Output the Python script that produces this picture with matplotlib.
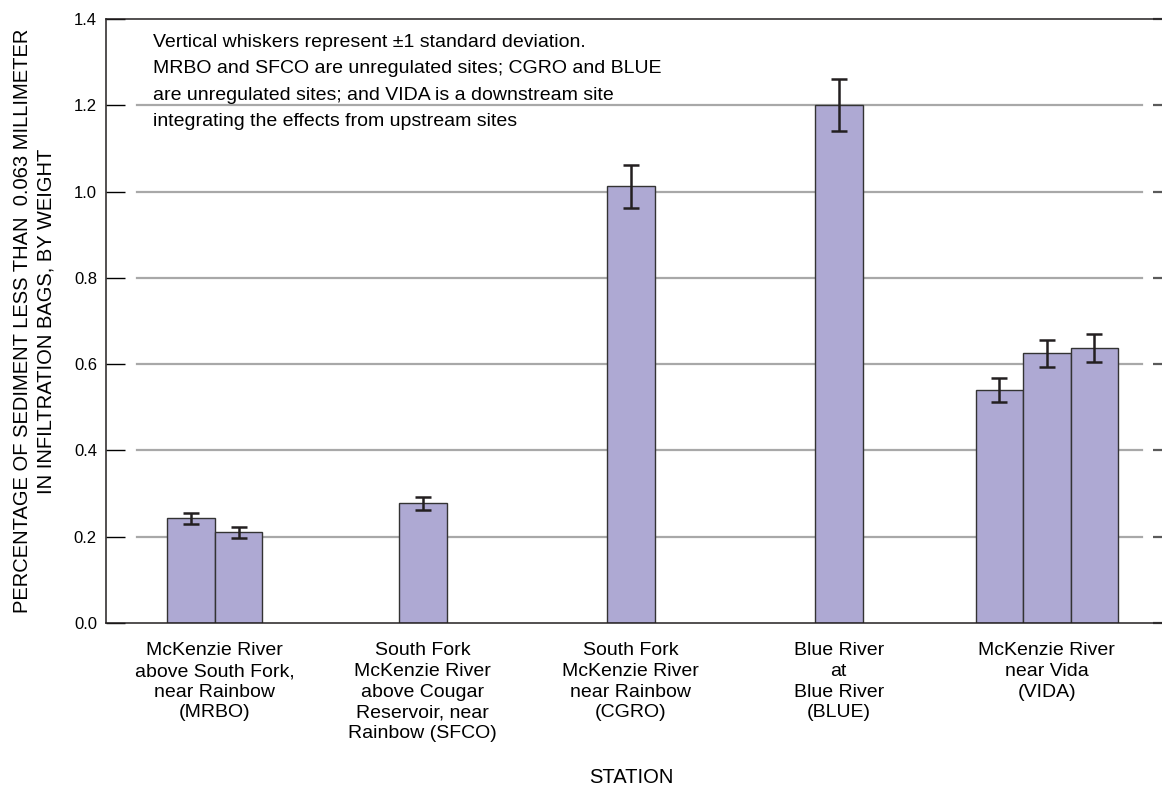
import numpy as np
import matplotlib
matplotlib.use('Agg')
from matplotlib import pyplot as plt

plt.rcParams['font.family'] = ['Liberation Sans Narrow', 'Liberation Sans', 'DejaVu Sans']

# station labels and per-bag values (percent < 0.063 mm, by weight)
stations = ['McKenzie River\nabove South Fork,\nnear Rainbow\n(MRBO)',
            'South Fork\nMcKenzie River\nabove Cougar\nReservoir, near\nRainbow (SFCO)',
            'South Fork\nMcKenzie River\nnear Rainbow\n(CGRO)',
            'Blue River\nat\nBlue River\n(BLUE)',
            'McKenzie River\nnear Vida\n(VIDA)']
mrbo = [0.243, 0.210]
sfco = [0.277]
cgro = [1.012]
blue = [1.201]
vida = [0.541, 0.625, 0.638]
mrbo_sd = [0.013, 0.012]
sfco_sd = [0.015]
cgro_sd = [0.050]
blue_sd = [0.060]
vida_sd = [0.028, 0.032, 0.033]

values = [mrbo, sfco, cgro, blue, vida]
sds = [mrbo_sd, sfco_sd, cgro_sd, blue_sd, vida_sd]
yticks = [0.0, 0.2, 0.4, 0.6, 0.8, 1.0, 1.2, 1.4]

W, H = 1162, 786
fig = plt.figure(figsize=(W / 100, H / 100), dpi=100)
ax = fig.add_axes([106 / W, 1 - 623 / H, 1066 / W, 604 / H])

bw = 0.2284
xs, ys, es = [], [], []
for i, (v, s) in enumerate(zip(values, sds)):
    n = len(v)
    for j in range(n):
        xs.append(i + (j - (n - 1) / 2) * bw)
        ys.append(v[j])
        es.append(s[j])

for y in yticks[1:-1]:
    ax.axhline(y, xmin=31 / 1066, xmax=1036 / 1066, color='#a8a8a8', lw=1.6, zorder=1)

ax.bar(xs, ys, width=bw, color='#aea9d3', edgecolor='#333333', linewidth=1.0, zorder=2)
ax.errorbar(xs, ys, yerr=es, fmt='none', ecolor='#231f20', elinewidth=1.8,
            capsize=5.8, capthick=1.8, zorder=3)

ax.set_xlim(-0.523, 4.602)
ax.set_ylim(0, 1.4)
ax.set_yticks(yticks)
ax.set_yticklabels(['%.1f' % t for t in yticks], fontsize=12, family=['Liberation Sans', 'DejaVu Sans'])
ax.tick_params(axis='y', direction='in', length=13.7, width=1.0, color='black', pad=6.5)
ax.set_xticks(range(len(stations)))
ax.set_xticklabels(stations, fontsize=14, linespacing=1.28, va='top')
ax.tick_params(axis='x', length=0, pad=14)

sec = ax.secondary_yaxis('right')
sec.set_yticks(yticks)
sec.tick_params(direction='in', length=13.7, width=1.6, color='#5a5a5a', labelright=False)

for sp in ['left', 'top', 'bottom']:
    ax.spines[sp].set_linewidth(1.1)
    ax.spines[sp].set_color('#231f20')

ax.set_xlabel('STATION', fontsize=14.5)
ax.xaxis.set_label_coords((631 - 106) / 1066, -0.24)
ax.set_ylabel('PERCENTAGE OF SEDIMENT LESS THAN  0.063 MILLIMETER\nIN INFILTRATION BAGS, BY WEIGHT',
              fontsize=14.5, linespacing=1.3, labelpad=13)

ax.text(0.044, 0.975,
        'Vertical whiskers represent \u00b11 standard deviation.\n'
        'MRBO and SFCO are unregulated sites; CGRO and BLUE\n'
        'are unregulated sites; and VIDA is a downstream site\n'
        'integrating the effects from upstream sites',
        transform=ax.transAxes, ha='left', va='top', fontsize=14, linespacing=1.72)

fig.savefig('out.png', dpi=100)
